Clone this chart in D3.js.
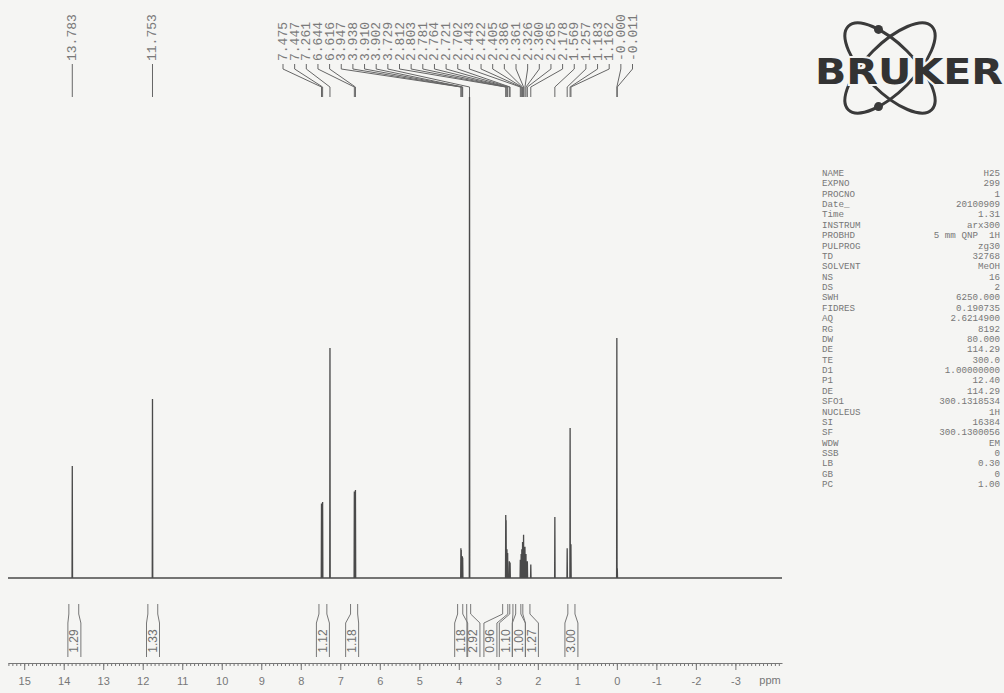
<!DOCTYPE html>
<html>
<head>
<meta charset="utf-8">
<script src="https://cdn.jsdelivr.net/npm/d3@7"></script>
<style>
html, body { margin: 0; padding: 0; background: #f5f5f3; }
svg { display: block; }
.axis text { font-family: "Liberation Sans", sans-serif; font-size: 11px; fill: #777; }
.axis path, .axis line { stroke: #777; }
</style>
</head>
<body>
<svg id="chart"></svg>
<script>
(function() {
'use strict';

// peak list (ppm) and heights (relative, 3.729 = 100)
var peakPpm = [13.783, 11.753, 7.475, 7.447, 7.261, 6.644, 6.616, 3.947, 3.938, 3.910, 3.902,
    3.729, 2.812, 2.803, 2.781, 2.764, 2.721, 2.702, 2.443, 2.422, 2.405, 2.386, 2.361, 2.326,
    2.300, 2.265, 2.178, 1.569, 1.257, 1.183, 1.162, -0.000, -0.011];
var peakHeight = [23.3, 37.2, 15.5, 15.8, 47.8, 18.0, 18.3, 6.2, 5.8, 4.5, 4.2,
    100, 13.1, 12.0, 6.0, 5.2, 3.5, 3.2, 3.8, 5.0, 6.0, 7.5, 9.0, 6.5,
    5.0, 3.5, 2.8, 12.7, 6.2, 31.2, 7.0, 49.9, 2.0];
var peakLabels = ['13.783', '11.753', '7.475', '7.447', '7.261', '6.644', '6.616', '3.947', '3.938',
    '3.910', '3.902', '3.729', '2.812', '2.803', '2.781', '2.764', '2.721', '2.702', '2.443', '2.422',
    '2.405', '2.386', '2.361', '2.326', '2.300', '2.265', '2.178', '1.569', '1.257', '1.183', '1.162',
    '-0.000', '-0.011'];

// integrals: region edges, label position (ppm) and value
var integralFrom = [13.87, 11.87, 7.54, 6.74, 4.03, 3.80, 2.89, 2.71, 2.56, 2.38, 1.24];
var integralTo = [13.62, 11.62, 7.34, 6.56, 3.90, 3.70, 2.76, 2.63, 2.43, 2.20, 1.06];
var integralBox = [13.73, 11.74, 7.44, 6.70, 3.94, 3.63, 3.20, 2.81, 2.48, 2.15, 1.15];
var integralValue = ['1.29', '1.33', '1.12', '1.18', '1.18', '2.92', '0.96', '1.10', '1.00', '1.27', '3.00'];

var axisTicks = [15, 14, 13, 12, 11, 10, 9, 8, 7, 6, 5, 4, 3, 2, 1, 0, -1, -2, -3];

var paramNames = ['NAME', 'EXPNO', 'PROCNO', 'Date_', 'Time', 'INSTRUM', 'PROBHD', 'PULPROG', 'TD',
    'SOLVENT', 'NS', 'DS', 'SWH', 'FIDRES', 'AQ', 'RG', 'DW', 'DE', 'TE', 'D1', 'P1', 'DE', 'SFO1',
    'NUCLEUS', 'SI', 'SF', 'WDW', 'SSB', 'LB', 'GB', 'PC'];
var paramValues = ['H25', '299', '1', '20100909', '1.31', 'arx300', '5 mm QNP  1H', 'zg30', '32768',
    'MeOH', '16', '2', '6250.000', '0.190735', '2.6214900', '8192', '80.000', '114.29', '300.0',
    '1.00000000', '12.40', '114.29', '300.1318534', '1H', '16384', '300.1300056', 'EM', '0', '0.30',
    '0', '1.00'];

var W = 1004, H = 693;
var svg = d3.select('#chart').attr('width', W).attr('height', H);
svg.append('rect').attr('width', W).attr('height', H).attr('fill', '#f5f5f3');

var x = d3.scaleLinear().domain([15.41, -4.18]).range([8, 782]);
var y = d3.scaleLinear().domain([0, 100]).range([578, 97]);

// spectrum trace: baseline with a narrow spike per peak
var order = d3.range(peakPpm.length).sort(function(a, b) { return peakPpm[b] - peakPpm[a]; });
var pts = [[15.41, 0]];
var hw = 0.006;
order.forEach(function(i) {
    pts.push([peakPpm[i] + hw, 0]);
    pts.push([peakPpm[i], peakHeight[i]]);
    pts.push([peakPpm[i] - hw, 0]);
});
pts.push([-4.18, 0]);

var line = d3.line()
    .x(function(d) { return x(d[0]); })
    .y(function(d) { return y(d[1]); });

svg.append('path')
    .datum(pts)
    .attr('d', line)
    .attr('fill', 'none')
    .attr('stroke', '#4a4a4a')
    .attr('stroke-width', 1.3);

// peak labels with leader lines
var labelG = svg.append('g');
var clusterStart = 283, clusterStep = 11.65;
peakPpm.forEach(function(p, i) {
    var px = x(p);
    var lx = i < 2 ? px : clusterStart + (i - 2) * clusterStep;
    labelG.append('text')
        .attr('transform', 'translate(' + (lx + 4) + ',61) rotate(-90)')
        .attr('font-family', '"Liberation Mono", monospace')
        .attr('font-size', 13)
        .attr('fill', '#7a7a7a')
        .text(peakLabels[i]);
    var d = i < 2
        ? 'M' + px + ',64 V97'
        : 'M' + lx + ',64 V69 L' + px + ',87 V97';
    labelG.append('path')
        .attr('d', d)
        .attr('fill', 'none')
        .attr('stroke', '#666')
        .attr('stroke-width', 1);
});

// integrals
var intG = svg.append('g');
integralValue.forEach(function(v, i) {
    var xa = x(integralFrom[i]), xb = x(integralTo[i]), bx = x(integralBox[i]);
    var bw = 6.5;
    var dl = 'M' + xa + ',604 V614 L' + (bx - bw) + ',623 V657';
    var dr = 'M' + xb + ',604 V614 L' + (bx + bw) + ',623 V657';
    intG.append('path').attr('d', dl).attr('fill', 'none').attr('stroke', '#777').attr('stroke-width', 1);
    intG.append('path').attr('d', dr).attr('fill', 'none').attr('stroke', '#777').attr('stroke-width', 1);
    intG.append('text')
        .attr('transform', 'translate(' + (bx + 4) + ',641) rotate(-90)')
        .attr('text-anchor', 'middle')
        .attr('font-family', '"Liberation Sans", sans-serif')
        .attr('font-size', 12)
        .attr('fill', '#707070')
        .text(v);
});

// ppm axis
var minor = d3.range(-41, 155).map(function(d) { return d / 10; });
svg.append('g')
    .attr('class', 'axis')
    .attr('transform', 'translate(0,663)')
    .call(d3.axisBottom(x).tickValues(minor).tickSize(3).tickSizeOuter(0).tickFormat(''));
svg.append('g')
    .attr('class', 'axis')
    .attr('transform', 'translate(0,663)')
    .call(d3.axisBottom(x).tickValues(axisTicks).tickSize(7).tickSizeOuter(0).tickPadding(7)
        .tickFormat(function(d) { return d; }))
    .call(function(g) { g.select('.domain').remove(); });
svg.append('text')
    .attr('x', 770).attr('y', 684)
    .attr('text-anchor', 'middle')
    .attr('font-family', '"Liberation Sans", sans-serif')
    .attr('font-size', 11)
    .attr('fill', '#777')
    .text('ppm');

// parameter table
var tab = svg.append('g')
    .attr('font-family', '"Liberation Mono", "Courier New", monospace')
    .attr('font-size', 9.2)
    .attr('fill', '#777');
paramNames.forEach(function(n, i) {
    var ty = 176 + i * 10.37;
    tab.append('text').attr('x', 822).attr('y', ty).text(n);
    tab.append('text').attr('x', 1000).attr('y', ty).attr('text-anchor', 'end')
        .attr('xml:space', 'preserve').text(paramValues[i]);
});

// logo
var logo = svg.append('g');
var cx = 890, cy = 68;
[45, -45].forEach(function(a) {
    logo.append('ellipse')
        .attr('transform', 'translate(' + cx + ',' + cy + ') rotate(' + a + ')')
        .attr('rx', 59).attr('ry', 24)
        .attr('fill', 'none')
        .attr('stroke', '#3a3a3a')
        .attr('stroke-width', 3);
});
logo.append('circle').attr('cx', 878.5).attr('cy', 29.4).attr('r', 4.5).attr('fill', '#3a3a3a');
logo.append('circle').attr('cx', 878.5).attr('cy', 106.6).attr('r', 4.5).attr('fill', '#3a3a3a');
logo.append('text')
    .attr('x', 815).attr('y', 84)
    .attr('textLength', 188)
    .attr('lengthAdjust', 'spacingAndGlyphs')
    .attr('font-family', '"DejaVu Sans", sans-serif')
    .attr('font-weight', 'bold')
    .attr('font-size', 35)
    .attr('fill', '#333')
    .attr('stroke', '#f5f5f3')
    .attr('stroke-width', 4)
    .attr('paint-order', 'stroke')
    .text('BRUKER');

})();
</script>
</body>
</html>
